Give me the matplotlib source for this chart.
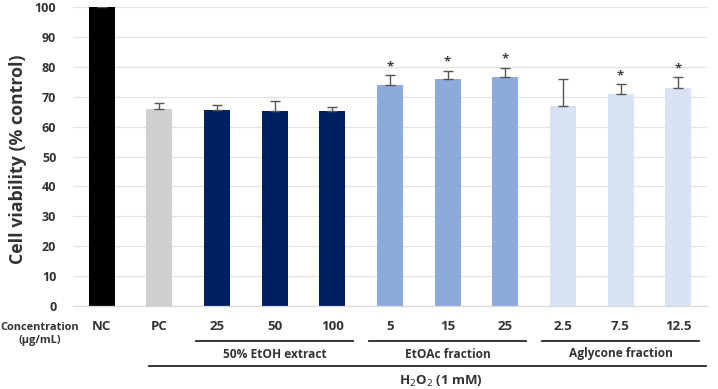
import matplotlib
matplotlib.use("Agg")
import matplotlib.pyplot as plt
from matplotlib import transforms
from matplotlib.lines import Line2D

plt.rcParams['font.family'] = ['Open Sans', 'DejaVu Sans']

categories = ["NC", "PC", "25", "50", "100", "5", "15", "25", "2.5", "7.5", "12.5"]
values = [100.0, 66.0, 65.7, 65.3, 65.1, 73.8, 76.0, 76.5, 66.8, 70.9, 72.8]
errors = [0.3, 2.0, 1.4, 3.3, 1.5, 3.3, 2.7, 3.1, 9.2, 3.2, 3.7]
significant = [False, False, False, False, False, True, True, True, False, True, True]
colors = ["#000000", "#d0cece", "#002060", "#002060", "#002060",
          "#8eaadb", "#8eaadb", "#8eaadb", "#d9e2f3", "#d9e2f3", "#d9e2f3"]
groups = [("50% EtOH extract", 2, 4), ("EtOAc fraction", 5, 7), ("Aglycone fraction", 8, 10)]
treatment_label = "H$_2$O$_2$ (1 mM)"
yticks = list(range(0, 101, 10))

TXT = '#333333'
W, H = 718, 389
fig = plt.figure(figsize=(W / 100, H / 100), dpi=100)
ax = fig.add_axes([73 / W, 1 - 306 / H, 634 / W, 299 / H])

x = list(range(len(categories)))
ax.bar(x, values, width=0.45, color=colors, zorder=2)
ax.errorbar(x, values, yerr=[[0] * len(errors), errors], fmt='none',
            ecolor='#555555', elinewidth=1.0, capsize=3.5, capthick=1.0, zorder=3)
for xi, v, e, s in zip(x, values, errors, significant):
    if s:
        ax.text(xi, v + e + 0.8, "*", ha='center', va='bottom', fontsize=9.5,
                color='#404040', fontweight='bold')

ax.set_xlim(-0.5, len(categories) - 0.5)
ax.set_ylim(0, 100)
ax.set_yticks(yticks)
ax.set_yticklabels([str(t) for t in yticks], fontsize=9, fontweight='bold', color=TXT)
ax.tick_params(axis='y', length=0, pad=12)
ax.tick_params(axis='x', length=0)
ax.set_xticks(x)
ax.set_xticklabels([])
ax.grid(axis='y', color='#e3e3e3', linewidth=0.9, zorder=0)
ax.set_axisbelow(True)
for side in ['left', 'right', 'top']:
    ax.spines[side].set_visible(False)
ax.spines['bottom'].set_color('#d9d9d9')
ax.spines['bottom'].set_linewidth(0.9)

ax.set_ylabel("Cell viability (% control)", fontsize=12.8, fontweight='bold', color=TXT)
ax.yaxis.set_label_coords(-0.073, 0.49)

trans = transforms.blended_transform_factory(ax.transData, fig.transFigure)
fy = lambda py: 1 - py / H

for xi, c in zip(x, categories):
    ax.text(xi, fy(327), c, transform=trans, ha='center', va='center',
            fontsize=9.5, fontweight='bold', color=TXT)

fig.text(40 / W, fy(334), "Concentration\n(μg/mL)", ha='center', va='center',
         fontsize=7.9, fontweight='bold', color=TXT, linespacing=1.35)

for name, a, b in groups:
    line = Line2D([a - 0.36, b + 0.36], [fy(340.7), fy(340.7)], transform=trans,
                  color='#262626', linewidth=1.3, clip_on=False)
    fig.add_artist(line)
    ax.text((a + b) / 2, fy(354), name, transform=trans, ha='center', va='center',
            fontsize=8.6, fontweight='bold', color=TXT)

long_line = Line2D([0.82, 10.48], [fy(366), fy(366)], transform=trans,
                   color='#262626', linewidth=1.3, clip_on=False)
fig.add_artist(long_line)
fig.text(441 / W, fy(381), treatment_label, ha='center', va='center',
         fontsize=9.5, fontweight='bold', color=TXT)

fig.savefig("out.png", dpi=100)
